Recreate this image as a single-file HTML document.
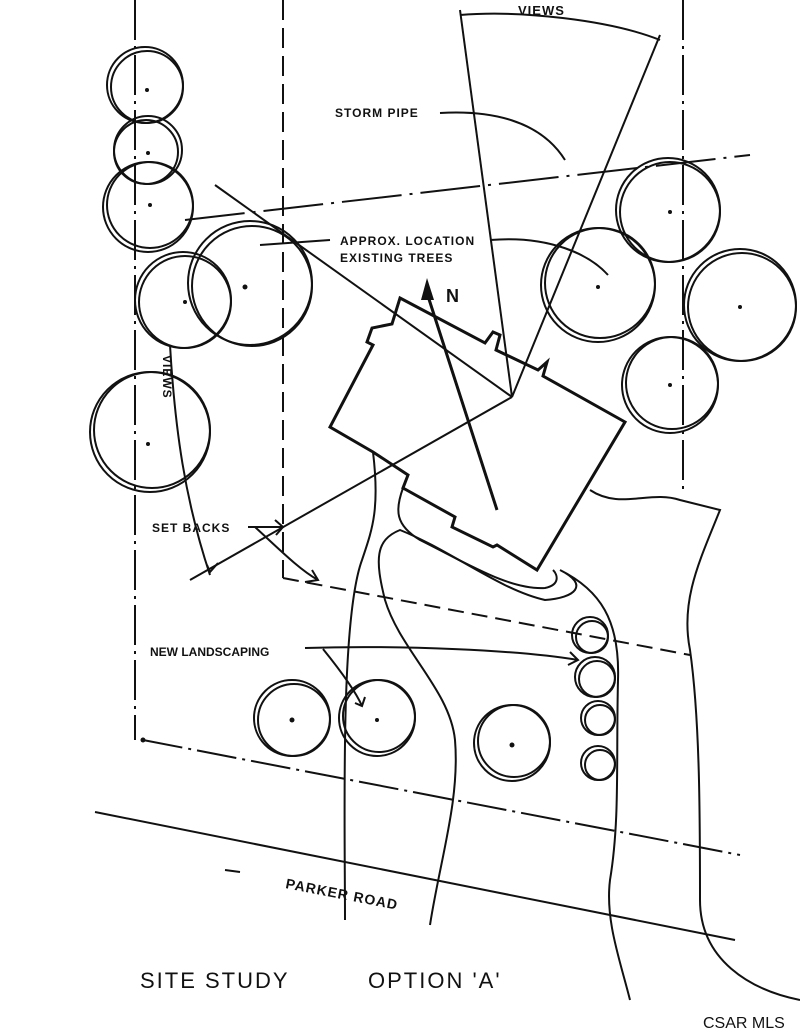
<!DOCTYPE html>
<html><head><meta charset="utf-8"><style>
html,body{margin:0;padding:0;background:#fff;}
svg{display:block;}
text{font-family:"Liberation Sans",sans-serif;fill:#111;}
.h{font-weight:bold;}
</style></head><body>
<svg width="800" height="1036" viewBox="0 0 800 1036" xmlns="http://www.w3.org/2000/svg">
<g fill="none" stroke="#111" stroke-width="2">
<path d="M135 0 L135 740" stroke-dasharray="40 6 3 6"/>
<path d="M683 0 L683 495" stroke-dasharray="40 6 3 6"/>
<path d="M143 740 L740 855" stroke-dasharray="40 6 3 6"/>
<path d="M283 0 L283 578" stroke-dasharray="20 8"/>
<path d="M283 578 L690 655" stroke-dasharray="16 8"/>
<path d="M185 220 L750 155" stroke-dasharray="60 8 3 8"/>
<path d="M95 812 L735 940"/>
<path d="M225 870 L240 872" />
<circle cx="145" cy="85" r="38"/><circle cx="147" cy="87" r="36"/>
<circle cx="148" cy="150" r="34"/><circle cx="146" cy="152" r="32"/>
<circle cx="148" cy="207" r="45"/><circle cx="150" cy="205" r="43"/>
<circle cx="183" cy="300" r="48"/><circle cx="185" cy="302" r="46"/>
<circle cx="250" cy="283" r="62"/><circle cx="252" cy="286" r="60"/>
<circle cx="150" cy="432" r="60"/><circle cx="152" cy="430" r="58"/>
<circle cx="668" cy="210" r="52"/><circle cx="670" cy="212" r="50"/>
<circle cx="598" cy="285" r="57"/><circle cx="600" cy="283" r="55"/>
<circle cx="740" cy="305" r="56"/><circle cx="742" cy="307" r="54"/>
<circle cx="670" cy="385" r="48"/><circle cx="672" cy="383" r="46"/>
<circle cx="292" cy="718" r="38"/><circle cx="294" cy="720" r="36"/>
<circle cx="377" cy="718" r="38"/><circle cx="379" cy="716" r="36"/>
<circle cx="512" cy="743" r="38"/><circle cx="514" cy="741" r="36"/>
<circle cx="590" cy="635" r="18"/><circle cx="592" cy="637" r="16"/>
<circle cx="595" cy="677" r="20"/><circle cx="597" cy="679" r="18"/>
<circle cx="598" cy="718" r="17"/><circle cx="600" cy="720" r="15"/>
<circle cx="598" cy="763" r="17"/><circle cx="600" cy="765" r="15"/>
<path d="M400 298 L485 343 L493 332 L500 335 L496 350 L538 370 L547 362 L543 376 L625 422 L537 570 L497 545 L493 547 L452 527 L455 517 L403 488 L408 475 L373 452 L330 427 L373 345 L367 342 L372 328 L392 324 Z" stroke-width="3"/>
<path d="M345 920 C345 820 340 620 362 560 C372 530 380 510 373 452"/>
<path d="M403 488 C395 510 395 525 420 540 C470 565 510 590 545 588 C560 585 558 575 553 570"/>
<path d="M430 925 C440 860 460 800 455 740 C450 690 400 650 385 600 C375 560 375 540 400 530 C450 550 500 590 545 600 C575 598 590 585 560 570 C600 590 620 620 618 680 C616 760 620 820 610 880 C605 920 620 960 630 1000"/>
<path d="M590 490 C620 510 650 490 680 500 L720 510 C700 560 680 600 690 650 C700 720 700 820 700 900 C700 960 750 990 800 1000"/>
<path d="M427 293 L497 510" stroke-width="3"/>
<path d="M460 10 L512 397"/><path d="M660 35 L512 397"/>
<path d="M460 15 C520 10 610 20 660 40"/>
<path d="M215 185 L512 397"/><path d="M190 580 L512 397"/>
<path d="M170 345 C175 430 185 500 210 575"/>
<path d="M440 113 C490 110 540 120 565 160"/>
<path d="M330 240 L260 245"/>
<path d="M490 240 C550 235 590 255 608 275"/>
<path d="M248 527 L283 527 M275 520 L283 527 L276 535"/>
<path d="M255 527 C280 550 300 570 318 580 M312 570 L318 580 L305 582"/>
<path d="M207 565 L210 572 L218 563"/>
<path d="M305 648 C400 645 520 650 578 660 M570 652 L578 660 L568 665"/>
<path d="M323 649 C340 670 355 690 362 706 M355 703 L362 706 L365 697"/>
</g>
<path d="M427 278 L421 300 L434 300 Z" fill="#111"/>
<g fill="#111">
<circle cx="147" cy="90" r="2"/><circle cx="148" cy="153" r="2"/><circle cx="150" cy="205" r="2"/>
<circle cx="185" cy="302" r="2"/><circle cx="245" cy="287" r="2.5"/><circle cx="148" cy="444" r="2"/>
<circle cx="670" cy="212" r="2"/><circle cx="598" cy="287" r="2"/><circle cx="740" cy="307" r="2"/>
<circle cx="670" cy="385" r="2"/><circle cx="292" cy="720" r="2.5"/><circle cx="377" cy="720" r="2"/>
<circle cx="512" cy="745" r="2.5"/><circle cx="143" cy="740" r="2.5"/>
</g>
<text class="h" x="518" y="15" font-size="13" letter-spacing="1">VIEWS</text>
<text class="h" x="335" y="117" font-size="12" letter-spacing="1">STORM PIPE</text>
<text class="h" x="340" y="245" font-size="12" letter-spacing="1">APPROX. LOCATION</text>
<text class="h" x="340" y="262" font-size="12" letter-spacing="1">EXISTING TREES</text>
<text x="446" y="302" font-size="18" font-weight="bold">N</text>
<text class="h" x="0" y="0" font-size="12" letter-spacing="1" transform="translate(163,355) rotate(90)">VIEWS</text>
<text class="h" x="152" y="532" font-size="12" letter-spacing="1">SET BACKS</text>
<text class="h" x="150" y="656" font-size="12" letter-spacing="0">NEW LANDSCAPING</text>
<text class="h" x="0" y="0" font-size="14" letter-spacing="1" transform="translate(285,888) rotate(11)">PARKER ROAD</text>
<text x="140" y="988" font-size="22" letter-spacing="2">SITE STUDY</text>
<text x="368" y="988" font-size="22" letter-spacing="2">OPTION 'A'</text>
<text x="703" y="1028" font-size="16">CSAR MLS</text>
</svg>
</body></html>
